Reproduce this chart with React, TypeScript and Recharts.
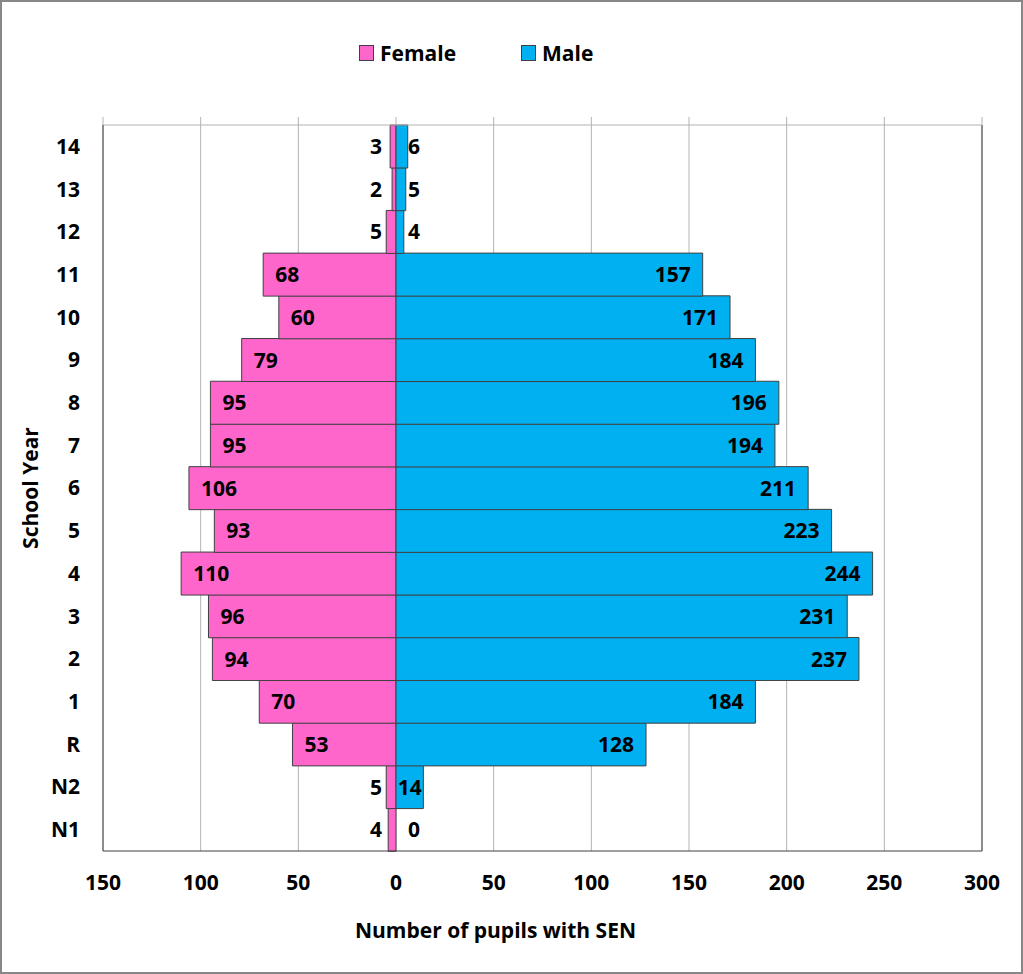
import {
  Bar,
  BarChart,
  CartesianGrid,
  LabelList,
  ReferenceLine,
  XAxis,
  YAxis,
} from 'recharts'

const years = ['N1', 'N2', 'R', '1', '2', '3', '4', '5', '6', '7', '8', '9', '10', '11', '12', '13', '14']
const female = [4, 5, 53, 70, 94, 96, 110, 93, 106, 95, 95, 79, 60, 68, 5, 2, 3]
const male = [0, 14, 128, 184, 237, 231, 244, 223, 211, 194, 196, 184, 171, 157, 4, 5, 6]
const xTicks = [-150, -100, -50, 0, 50, 100, 150, 200, 250, 300]

const FONT = '"Open Sans", "Noto Sans", sans-serif'
const FS = 21
const FEMALE_FILL = '#FF66CC'
const MALE_FILL = '#00B0F0'
const OUTLINE = '#404040'
const GRID = '#B3B3B3'

const rows = years.map((year, i) => ({
  year,
  female: -female[i],
  male: male[i],
}))

const absFormatter = (v: number) => `${Math.abs(v)}`
const emptyTick = () => <g />

const labelText = (tx: number, cy: number, anchor: string, text: string, key?: string) => (
  <text
    key={key}
    x={tx}
    y={cy}
    dy="0.36em"
    textAnchor={anchor as any}
    fontFamily={FONT}
    fontWeight={700}
    fontSize={FS}
    fill="#000">
    {text}
  </text>
)

// label placement like Excel: inside the bar end, or just outside near zero if it does not fit
const makeLabel = (side: 'female' | 'male') => (props: any) => {
  const { x, y, width, height, value, index } = props
  const v = Math.abs(Number(value))
  const text = `${v}`
  const tw = text.length * 12
  const left = Math.min(x, x + width)
  const right = Math.max(x, x + width)
  const w = right - left
  const cy = y + height / 2
  let tx = 0
  let anchor = 'middle'
  if (w >= tw + 22) {
    if (side === 'female') {
      tx = left + 12
      anchor = 'start'
    } else {
      tx = right - 12
      anchor = 'end'
    }
  } else if (w >= tw + 3) {
    tx = (left + right) / 2
  } else if (side === 'female') {
    tx = right - 14
    anchor = 'end'
  } else {
    tx = left + 12
    anchor = 'start'
  }
  // a zero-width male bar draws no label of its own, so the female row adds it
  const extra =
    side === 'female' && male[index] === 0
      ? labelText(right + 12, cy, 'start', '0', 'zero')
      : null
  return (
    <g>
      {labelText(tx, cy, anchor, text, 'main')}
      {extra}
    </g>
  )
}

const legendItems = [
  { name: 'Female', color: FEMALE_FILL, left: 359 },
  { name: 'Male', color: MALE_FILL, left: 521 },
]

export default function App() {
  return (
    <div
      style={{
        position: 'absolute',
        left: 0,
        top: 0,
        width: 1023,
        height: 974,
        background: '#fff',
        fontFamily: FONT,
      }}>
      <BarChart
        width={1023}
        height={974}
        data={rows}
        layout="vertical"
        stackOffset="sign"
        barCategoryGap={0}
        margin={{ top: 115, right: 41, left: 0, bottom: 33 }}>
        <CartesianGrid horizontal={false} stroke={GRID} />
        <XAxis
          xAxisId="top"
          orientation="top"
          type="number"
          domain={[-150, 300]}
          ticks={xTicks}
          height={10}
          tickSize={8}
          tick={emptyTick}
          stroke={GRID}
          allowDataOverflow
        />
        <XAxis
          type="number"
          domain={[-150, 300]}
          ticks={xTicks}
          tickFormatter={absFormatter}
          height={90}
          tickLine={false}
          tickSize={0}
          tickMargin={24}
          axisLine={{ stroke: OUTLINE }}
          tick={{ fill: '#000', fontSize: FS, fontWeight: 700, fontFamily: FONT }}
          label={{
            value: 'Number of pupils with SEN',
            position: 'insideBottom',
            offset: 3,
            dx: -47,
            fill: '#000',
            fontSize: FS,
            fontWeight: 700,
            fontFamily: FONT,
          }}
          allowDataOverflow
        />
        <YAxis
          type="category"
          dataKey="year"
          reversed
          width={103}
          tickLine={false}
          tickSize={0}
          tickMargin={23}
          axisLine={{ stroke: OUTLINE }}
          interval={0}
          tick={{ fill: '#000', fontSize: FS, fontWeight: 700, fontFamily: FONT }}
          label={{
            value: 'School Year',
            angle: -90,
            position: 'center',
            dx: -21,
            fill: '#000',
            fontSize: FS,
            fontWeight: 700,
            fontFamily: FONT,
          }}
        />
        <ReferenceLine x={300} stroke={OUTLINE} />
        <Bar
          dataKey="female"
          name="Female"
          stackId="pop"
          fill={FEMALE_FILL}
          stroke={OUTLINE}
          strokeWidth={1}
          isAnimationActive={false}>
          <LabelList dataKey="female" content={makeLabel('female')} />
        </Bar>
        <Bar
          dataKey="male"
          name="Male"
          stackId="pop"
          fill={MALE_FILL}
          stroke={OUTLINE}
          strokeWidth={1}
          isAnimationActive={false}>
          <LabelList dataKey="male" content={makeLabel('male')} />
        </Bar>
      </BarChart>
      {legendItems.map((item) => (
        <div
          key={item.name}
          style={{
            position: 'absolute',
            left: item.left,
            top: 39,
            display: 'flex',
            alignItems: 'center',
            fontSize: FS,
            fontWeight: 700,
            color: '#000',
            lineHeight: '28px',
          }}>
          <span
            style={{
              display: 'inline-block',
              width: 13,
              height: 14,
              background: item.color,
              border: `1px solid ${OUTLINE}`,
              marginRight: 6,
            }}
          />
          {item.name}
        </div>
      ))}
      <div
        style={{
          position: 'absolute',
          left: 0,
          top: 0,
          width: 1023,
          height: 974,
          boxSizing: 'border-box',
          border: '2px solid #878787',
          pointerEvents: 'none',
        }}
      />
    </div>
  )
}
